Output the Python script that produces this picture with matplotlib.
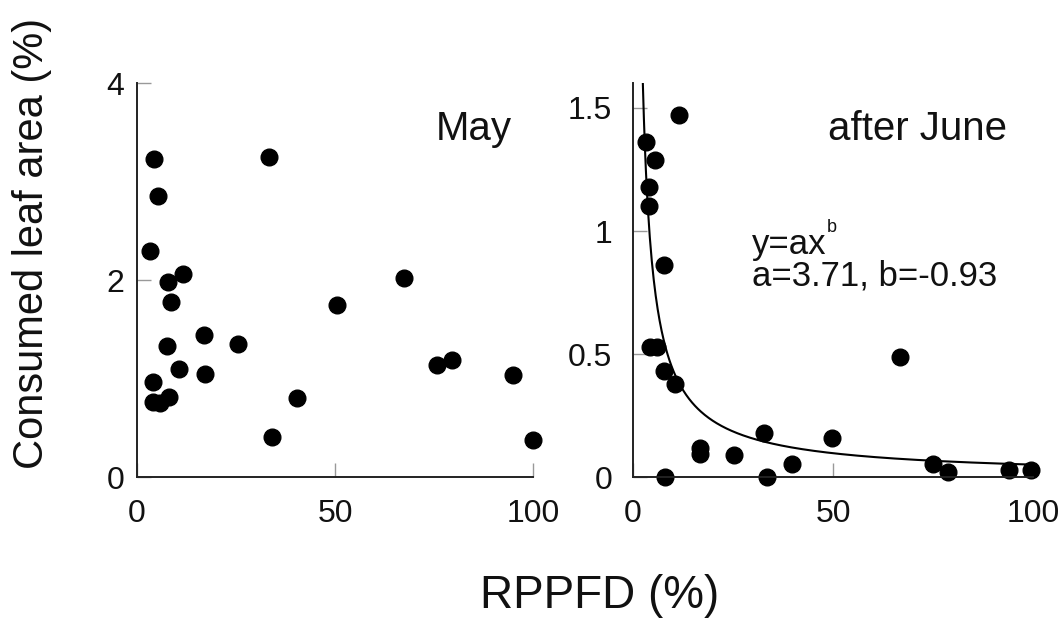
import numpy as np
import matplotlib
matplotlib.use("Agg")
import matplotlib.pyplot as plt

plt.rcParams['font.family'] = ['Liberation Sans', 'DejaVu Sans']

# May: RPPFD (%) vs consumed leaf area (%)
may_x = [4.4, 5.4, 3.3, 7.9, 11.7, 8.5, 7.7, 17.0, 25.6, 10.7, 17.2, 4.0,
         4.1, 5.8, 8.2, 33.3, 34.0, 40.3, 50.4, 67.5, 75.7, 79.6, 94.8, 100.0]
may_y = [3.23, 2.86, 2.30, 1.98, 2.06, 1.78, 1.33, 1.44, 1.35, 1.10, 1.05, 0.97,
         0.76, 0.75, 0.81, 3.25, 0.41, 0.80, 1.75, 2.02, 1.14, 1.19, 1.04, 0.38]

# after June
june_x = [11.4, 3.3, 5.6, 3.9, 3.9, 7.7, 4.2, 6.0, 7.8, 10.6, 16.7, 16.7,
          25.2, 32.8, 49.8, 39.6, 8.1, 33.5, 66.7, 74.9, 78.8, 93.9, 99.3]
june_y = [1.47, 1.36, 1.29, 1.18, 1.10, 0.86, 0.53, 0.53, 0.43, 0.38, 0.12, 0.095,
          0.09, 0.18, 0.16, 0.055, 0.0, 0.0, 0.49, 0.055, 0.02, 0.03, 0.03]

# power fit y = a * x^b
fit_a = 3.71
fit_b = -0.93

fig = plt.figure(figsize=(10.62, 6.19), dpi=100)
ax1 = fig.add_axes([0.129, 0.229, 0.373, 0.6365])
ax2 = fig.add_axes([0.596, 0.229, 0.377, 0.6365])

for ax in (ax1, ax2):
    for s in ('top', 'right'):
        ax.spines[s].set_visible(False)
    for s in ('left', 'bottom'):
        ax.spines[s].set_linewidth(1.4)
        ax.spines[s].set_color('#222222')
    ax.set_xlim(0, 100)
    ax.set_xticks([0, 50, 100])
    ax.tick_params(direction='in', length=10, width=1, color='#999999',
                   labelsize=23, labelcolor='#111111')
    ax.tick_params(axis='x', pad=16)

ax1.plot(may_x, may_y, 'o', color='black', markersize=12, clip_on=False)
ax1.set_ylim(0, 4)
ax1.set_yticks([0, 2, 4])
ax1.tick_params(axis='y', pad=9)
ax1.text(0.947, 0.855, 'May', transform=ax1.transAxes, ha='right',
         va='baseline', fontsize=29, color='#111111')

xs = np.linspace(2.0, 100, 400)
ax2.plot(xs, fit_a * xs ** fit_b, color='black', linewidth=1.5)
ax2.plot(june_x, june_y, 'o', color='black', markersize=12, clip_on=False)
ax2.set_ylim(0, 1.6)
ax2.set_yticks([0, 0.5, 1, 1.5])
ax2.set_yticklabels(['0', '0.5', '1', '1.5'])
ax2.tick_params(axis='y', pad=15)
ax2.text(0.935, 0.855, 'after June', transform=ax2.transAxes, ha='right',
         va='baseline', fontsize=29, color='#111111')
eq = ax2.text(0.297, 0.567, 'y=ax', transform=ax2.transAxes, ha='left',
              va='baseline', fontsize=25, color='#111111')
ax2.annotate('b', xy=(1.0, 0.75), xycoords=eq, ha='left', va='bottom',
             fontsize=13, color='#111111')
ax2.text(0.297, 0.487, 'a=%.2f, b=%.2f' % (fit_a, fit_b), transform=ax2.transAxes,
         ha='left', va='baseline', fontsize=25, color='#111111')

fig.text(0.030, 0.606, 'Consumed leaf area (%)', rotation=90, ha='center',
         va='center', fontsize=30, color='#111111')
fig.text(0.565, 0.018, 'RPPFD (%)', ha='center', va='baseline', fontsize=33,
         color='#111111')

fig.savefig('out.png', dpi=100)
